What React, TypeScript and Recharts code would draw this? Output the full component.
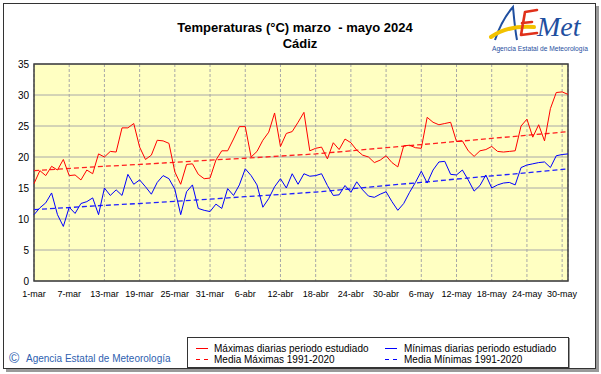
import React from 'react';
import { LineChart, Line, XAxis, YAxis, CartesianGrid, ReferenceArea, Legend } from 'recharts';

const tickDays = [0, 6, 12, 18, 24, 30, 36, 42, 48, 54, 60, 66, 72, 78, 84, 90];
const tickLabels = ['1-mar', '7-mar', '13-mar', '19-mar', '25-mar', '31-mar', '6-abr', '12-abr', '18-abr', '24-abr', '30-abr', '6-may', '12-may', '18-may', '24-may', '30-may'];
const yTicks = [0, 5, 10, 15, 20, 25, 30, 35];

// Daily maxima, 1 Mar – 31 May 2024
const maxT = [
  15.7, 17.8, 17.0, 18.5, 17.9, 19.6, 17.0, 17.1, 16.3, 17.9,
  17.3, 20.5, 20.0, 20.9, 20.8, 24.7, 24.7, 25.4, 21.6, 19.6,
  20.3, 22.7, 22.6, 22.2, 17.6, 15.6, 18.8, 18.9, 17.2, 16.5,
  16.6, 19.5, 21.0, 21.0, 22.9, 24.9, 24.9, 20.0, 20.9, 22.7,
  24.0, 27.1, 21.7, 23.8, 24.1, 25.6, 27.2, 21.0, 21.4, 21.6,
  19.7, 22.3, 21.2, 22.9, 22.3, 21.1, 20.3, 20.0, 19.1, 19.5,
  20.2, 19.1, 18.4, 21.8, 21.9, 21.5, 21.4, 26.4, 25.6, 25.2,
  25.4, 25.6, 22.5, 22.6, 21.0, 20.1, 21.0, 21.2, 21.7, 20.9,
  20.8, 20.9, 21.0, 25.0, 26.1, 23.2, 25.2, 22.6, 27.8, 30.4,
  30.5, 30.1,
];

// Daily minima
const minT = [
  10.7, 11.8, 12.6, 14.2, 10.7, 8.8, 11.9, 10.9, 12.5, 12.8,
  13.4, 10.7, 15.0, 13.8, 14.7, 13.8, 17.2, 15.6, 16.3, 15.2,
  14.0, 15.9, 17.0, 16.5, 14.8, 10.7, 14.4, 15.5, 11.7, 11.4,
  11.2, 12.4, 11.7, 14.9, 13.8, 15.5, 18.1, 17.0, 15.5, 11.9,
  13.3, 15.2, 16.5, 15.0, 17.3, 15.6, 17.3, 16.9, 17.0, 17.3,
  15.4, 13.8, 13.9, 15.4, 14.3, 16.0, 14.7, 13.7, 13.5, 14.0,
  14.4, 12.8, 11.4, 12.5, 14.3, 15.9, 17.7, 15.8, 17.9, 19.2,
  19.3, 17.2, 17.1, 17.9, 16.3, 14.5, 15.4, 17.1, 15.0, 15.5,
  15.8, 15.9, 15.5, 18.3, 18.7, 18.9, 19.1, 19.2, 18.3, 20.2,
  20.4, 20.5,
];

// 1991-2020 normals read at the tick dates and at the last day
const meanDays = [0, 6, 12, 18, 24, 30, 36, 42, 48, 54, 60, 66, 72, 78, 84, 90, 91];
const meanMax = [17.8, 18.15, 18.5, 18.8, 19.15, 19.5, 19.8, 20.15, 20.5, 21.0, 21.5, 22.0, 22.5, 23.0, 23.5, 24.0, 24.1];
const meanMin = [11.5, 11.85, 12.2, 12.5, 12.85, 13.2, 13.6, 13.95, 14.35, 14.85, 15.4, 15.9, 16.45, 16.95, 17.45, 18.0, 18.1];

type Row = { day: number; max: number; min: number; mmax: number | null; mmin: number | null };
const data: Row[] = maxT.map((v, i) => ({ day: i, max: v, min: minT[i], mmax: null, mmin: null }));
meanDays.forEach((d, k) => {
  data[d].mmax = meanMax[k];
  data[d].mmin = meanMin[k];
});

const FONT = '"Liberation Sans", Arial, sans-serif';

const LegendBox = () => (
  <div style={{ width: 380, height: 29, border: '1px solid #333', boxShadow: '1px 1px 0 #999', background: '#fff' }}>
    <svg width={380} height={29} style={{ display: 'block', fontFamily: FONT, fontSize: 10 }}>
      <line x1={8} x2={20} y1={10.5} y2={10.5} stroke="#FF0000" strokeWidth={1} />
      <text x={26} y={14} fill="#000">Máximas diarias periodo estudiado</text>
      <line x1={8} x2={20} y1={21.5} y2={21.5} stroke="#FF0000" strokeWidth={1} strokeDasharray="4 4" />
      <text x={26} y={25} fill="#000">Media Máximas 1991-2020</text>
      <line x1={197} x2={209} y1={10.5} y2={10.5} stroke="#0000FF" strokeWidth={1} />
      <text x={216} y={14} fill="#000">Mínimas diarias periodo estudiado</text>
      <line x1={197} x2={209} y1={21.5} y2={21.5} stroke="#0000FF" strokeWidth={1} strokeDasharray="4 4" />
      <text x={216} y={25} fill="#000">Media Mínimas 1991-2020</text>
    </svg>
  </div>
);

export default function App() {
  return (
    <div style={{ position: 'absolute', left: 0, top: 0, width: 601, height: 374, background: '#fff', fontFamily: FONT }}>
      <LineChart
        width={601}
        height={374}
        data={data}
        margin={{ top: 64, right: 33, bottom: 63, left: 0 }}
        style={{ fontFamily: FONT }}
      >
        <CartesianGrid horizontal vertical={false} stroke="#A8A8A8" fill="#FFFFC2" />
        <CartesianGrid horizontal={false} vertical stroke="#A8A8A8" strokeDasharray="3 2" />
        <XAxis
          dataKey="day"
          type="number"
          domain={[0, 91]}
          ticks={tickDays}
          tickFormatter={(v: number) => tickLabels[tickDays.indexOf(v)] ?? ''}
          interval={0}
          tickLine={false}
          axisLine={false}
          tickSize={6}
          tickMargin={4}
          tick={{ fill: '#000', fontSize: 9 }}
        />
        <YAxis
          type="number"
          domain={[0, 35]}
          ticks={yTicks}
          width={34}
          tickLine={false}
          axisLine={false}
          tickSize={3}
          tickMargin={2}
          tick={{ fill: '#000', fontSize: 10 }}
        />
        <Line dataKey="mmax" stroke="#FF2020" strokeWidth={1.3} strokeDasharray="5 3" dot={false} connectNulls isAnimationActive={false} />
        <Line dataKey="mmin" stroke="#2020FF" strokeWidth={1.3} strokeDasharray="5 3" dot={false} connectNulls isAnimationActive={false} />
        <Line dataKey="max" stroke="#FF0000" strokeWidth={1} dot={false} isAnimationActive={false} />
        <Line dataKey="min" stroke="#0000FF" strokeWidth={1} dot={false} isAnimationActive={false} />
        <ReferenceArea x1={0} x2={91} y1={0} y2={35} fill="none" fillOpacity={0} stroke="#404040" strokeWidth={1.5} />
        <Legend
          layout="horizontal"
          verticalAlign="middle"
          align="center"
          content={<LegendBox />}
          wrapperStyle={{ left: 187, top: 337, width: 382, height: 31 }}
        />
      </LineChart>
      <svg
        width={601}
        height={374}
        style={{ position: 'absolute', left: 0, top: 0, pointerEvents: 'none', fontFamily: FONT }}
      >
        {/* outer frame with shadow */}
        <rect x={6} y={369} width={593} height={3} fill="#9a9a9a" />
        <rect x={596} y={6} width={3} height={366} fill="#9a9a9a" />
        <rect x={3.5} y={3.5} width={592} height={365} fill="none" stroke="#333" strokeWidth={1} />
        {/* title */}
        <text x={295} y={32} textAnchor="middle" fontSize={13} fontWeight="bold" fill="#000" style={{ whiteSpace: 'pre' }}>
          {'Temperaturas (°C) marzo  - mayo 2024'}
        </text>
        <text x={300} y={48} textAnchor="middle" fontSize={13} fontWeight="bold" fill="#000">Cádiz</text>
        {/* logo */}
        <path d="M495,40 C499,28 505,16 513,7 C514,18 515,30 517,40" fill="none" stroke="#1F4FA0" strokeWidth={2} />
        <path d="M491,37 Q508,25 534,27" fill="none" stroke="#F2C200" strokeWidth={4} strokeLinecap="round" />
        <path d="M525,12 L521,35 M525,12 L537,10 M522,23 L532,22 M521,35 L537,33" fill="none" stroke="#E0301A" strokeWidth={2.6} strokeLinecap="round" />
        <text x={537} y={36} fontSize={28} fontStyle="italic" fill="#1F4FA0" fontFamily='"Liberation Serif", serif'>Met</text>
        <text x={492} y={51} fontSize={7} fill="#1F4FA0" textLength={96} lengthAdjust="spacingAndGlyphs">Agencia Estatal de Meteorología</text>
        {/* copyright */}
        <text x={9} y={363} fontSize={14} fill="#2F5FB0">©</text>
        <text x={26} y={362} fontSize={10} fill="#2F5FB0">Agencia Estatal de Meteorología</text>
      </svg>
    </div>
  );
}
